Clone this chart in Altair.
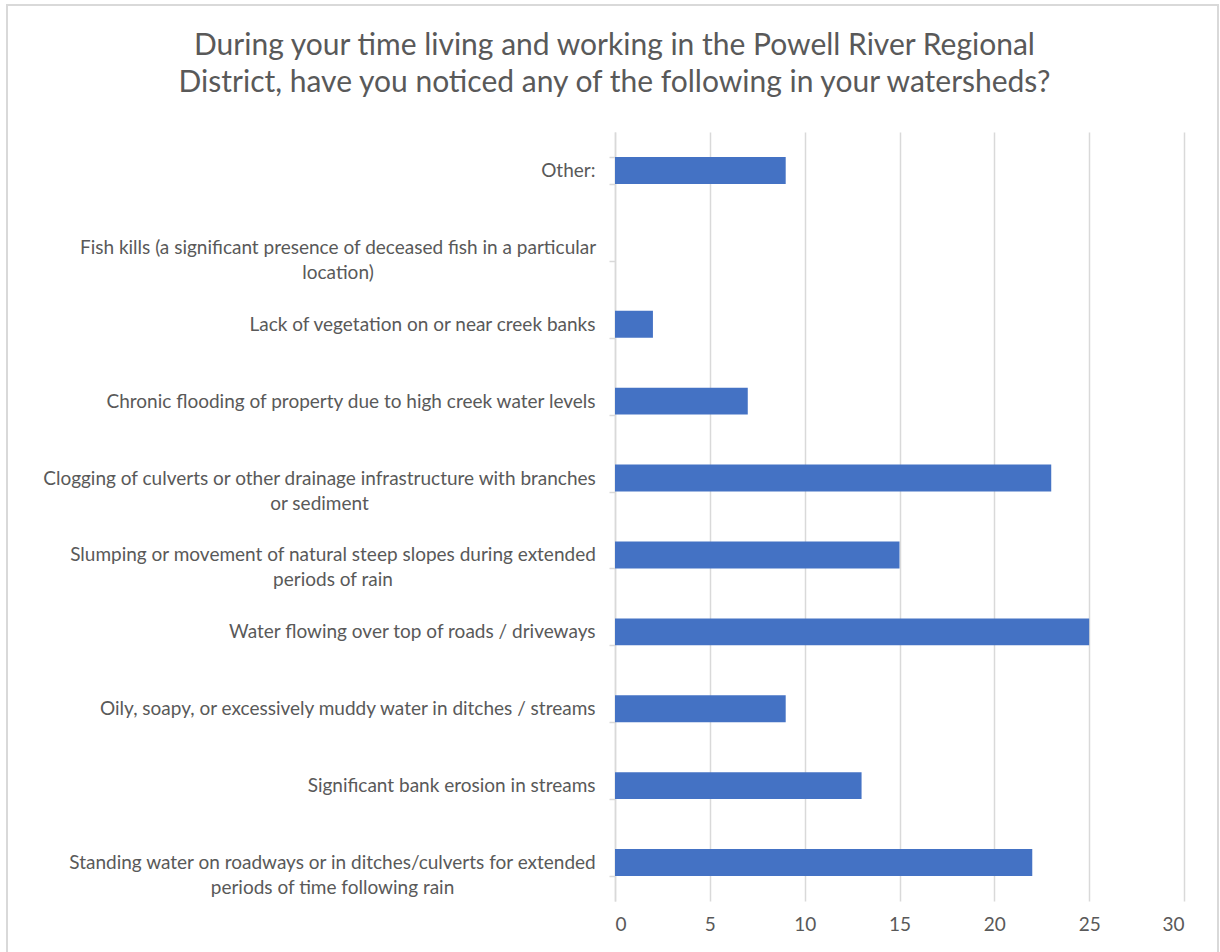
import altair as alt
import pandas as pd

categories = [
    "Other:",
    "Fish kills (a significant presence of deceased fish in a particular|location)",
    "Lack of vegetation on or near creek banks",
    "Chronic flooding of property due to high creek water levels",
    "Clogging of culverts or other drainage infrastructure with branches|or sediment",
    "Slumping or movement of natural steep slopes during extended|periods of rain",
    "Water flowing over top of roads / driveways",
    "Oily, soapy, or excessively muddy water in ditches / streams",
    "Significant bank erosion in streams",
    "Standing water on roadways or in ditches/culverts for extended|periods of time following rain",
]
counts = [9, 0, 2, 7, 23, 15, 25, 9, 13, 22]
x_ticks = [0, 5, 10, 15, 20, 25, 30]
title_lines = [
    "During your time living and working in the Powell River Regional",
    "District, have you noticed any of the following in your watersheds?",
]

df = pd.DataFrame({"category": categories, "count": counts})

FONT = "Lato"
TXT = "#595959"
GRID = "#d9d9d9"
PAD = 14

# approximate rendered width (px) of the first line of each wrapped label,
# used to center wrapped labels as a block next to the axis
wrap_first_line_width = {
    "Fish kills": 515,
    "Clogging of": 552,
    "Slumping or": 525,
    "Standing water": 526,
}
pad_expr = str(PAD)
for key, w in wrap_first_line_width.items():
    pad_expr = f"indexof(datum.label, '{key}') == 0 ? {PAD + w / 2} : ({pad_expr})"
align_expr = "indexof(datum.label, '|') >= 0 ? 'center' : 'right'"

bars = alt.Chart(df).mark_bar(color="#4472C4").encode(
    x=alt.X(
        "count:Q",
        scale=alt.Scale(domain=[0, 30], nice=False),
        axis=alt.Axis(
            values=x_ticks,
            title=None,
            domain=False,
            ticks=False,
            grid=True,
            gridColor=GRID,
            gridWidth=1.5,
            labelFont=FONT,
            labelFontSize=19,
            labelColor=TXT,
            labelPadding=14,
        ),
    ),
    y=alt.Y(
        "category:N",
        sort=categories,
        scale=alt.Scale(paddingInner=0.65, paddingOuter=0.325),
        axis=alt.Axis(
            title=None,
            labelExpr="split(datum.label, '|')",
            labelFont=FONT,
            labelFontSize=19,
            labelColor=TXT,
            labelLineHeight=25,
            labelPadding=alt.ExprRef(pad_expr),
            labelAlign=alt.ExprRef(align_expr),
            labelLimit=700,
            domainColor=GRID,
            domainWidth=1.5,
            tickColor=GRID,
            tickWidth=1.5,
            tickSize=6,
            tickBand="extent",
            grid=False,
        ),
    ),
)

frame = alt.Chart(pd.DataFrame({"f": [0]})).mark_rect(
    fill=None, stroke=GRID, strokeWidth=2
).encode(
    x=alt.value(-608), x2=alt.value(603), y=alt.value(-127), y2=alt.value(840)
)

chart = alt.layer(frame, bars).properties(
    width=569,
    height=769,
    padding={"left": 615, "top": 132, "right": 36, "bottom": 51},
    autosize=alt.AutoSizeParams(type="none"),
    title=alt.TitleParams(
        text=title_lines,
        font=FONT,
        fontSize=30,
        fontWeight="normal",
        color=TXT,
        lineHeight=37,
        anchor="middle",
        dx=-285,
        offset=-94,
    ),
).configure(background="white", view=alt.ViewConfig(stroke=None))

chart.save("out.html", embed_options={"renderer": "svg", "actions": False})
